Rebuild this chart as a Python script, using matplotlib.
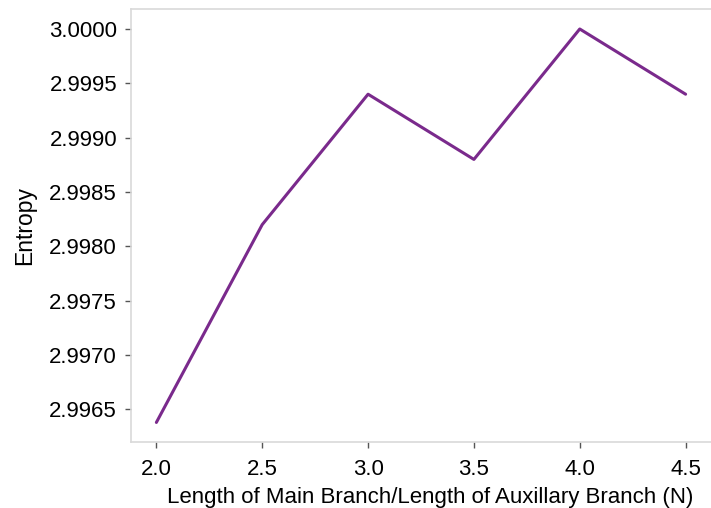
import matplotlib
matplotlib.use("Agg")
import matplotlib.pyplot as plt

# длина главной ветви / длина вспомогательной
ratio = [2.0, 2.5, 3.0, 3.5, 4.0, 4.5]
entropy = [2.99638, 2.9982, 2.9994, 2.9988, 3.0000, 2.9994]

xticks = [2.0, 2.5, 3.0, 3.5, 4.0, 4.5]
yticks = [2.9965, 2.9970, 2.9975, 2.9980, 2.9985, 2.9990, 2.9995, 3.0000]

plt.rcParams['font.family'] = ['Liberation Sans', 'DejaVu Sans']

fig = plt.figure(figsize=(7.11, 5.08), dpi=100)
ax = fig.add_axes([0.1842, 0.1299, 0.8158, 0.8524])

ax.plot(ratio, entropy, color='#7a2a8c', linewidth=2.2, solid_capstyle='round')

ax.set_xlim(1.88, 4.62)
ax.set_ylim(2.99620, 3.000184)
ax.set_xticks(xticks)
ax.set_xticklabels([f'{v:.1f}' for v in xticks])
ax.set_yticks(yticks)
ax.set_yticklabels([f'{v:.4f}' for v in yticks])

for side in ['left', 'bottom', 'top']:
    ax.spines[side].set_color('#d9d9d9')
    ax.spines[side].set_linewidth(1.2)
ax.spines['right'].set_visible(False)

ax.tick_params(axis='both', labelsize=16, length=4, width=1, color='#555555', pad=6)
ax.tick_params(axis='x', pad=8)

ax.set_xlabel('Length of Main Branch/Length of Auxillary Branch (N)', fontsize=16)
ax.xaxis.set_label_coords(0.516, -0.105)
ax.set_ylabel('Entropy', fontsize=16.5, labelpad=9)

fig.savefig('out.png', dpi=100)
